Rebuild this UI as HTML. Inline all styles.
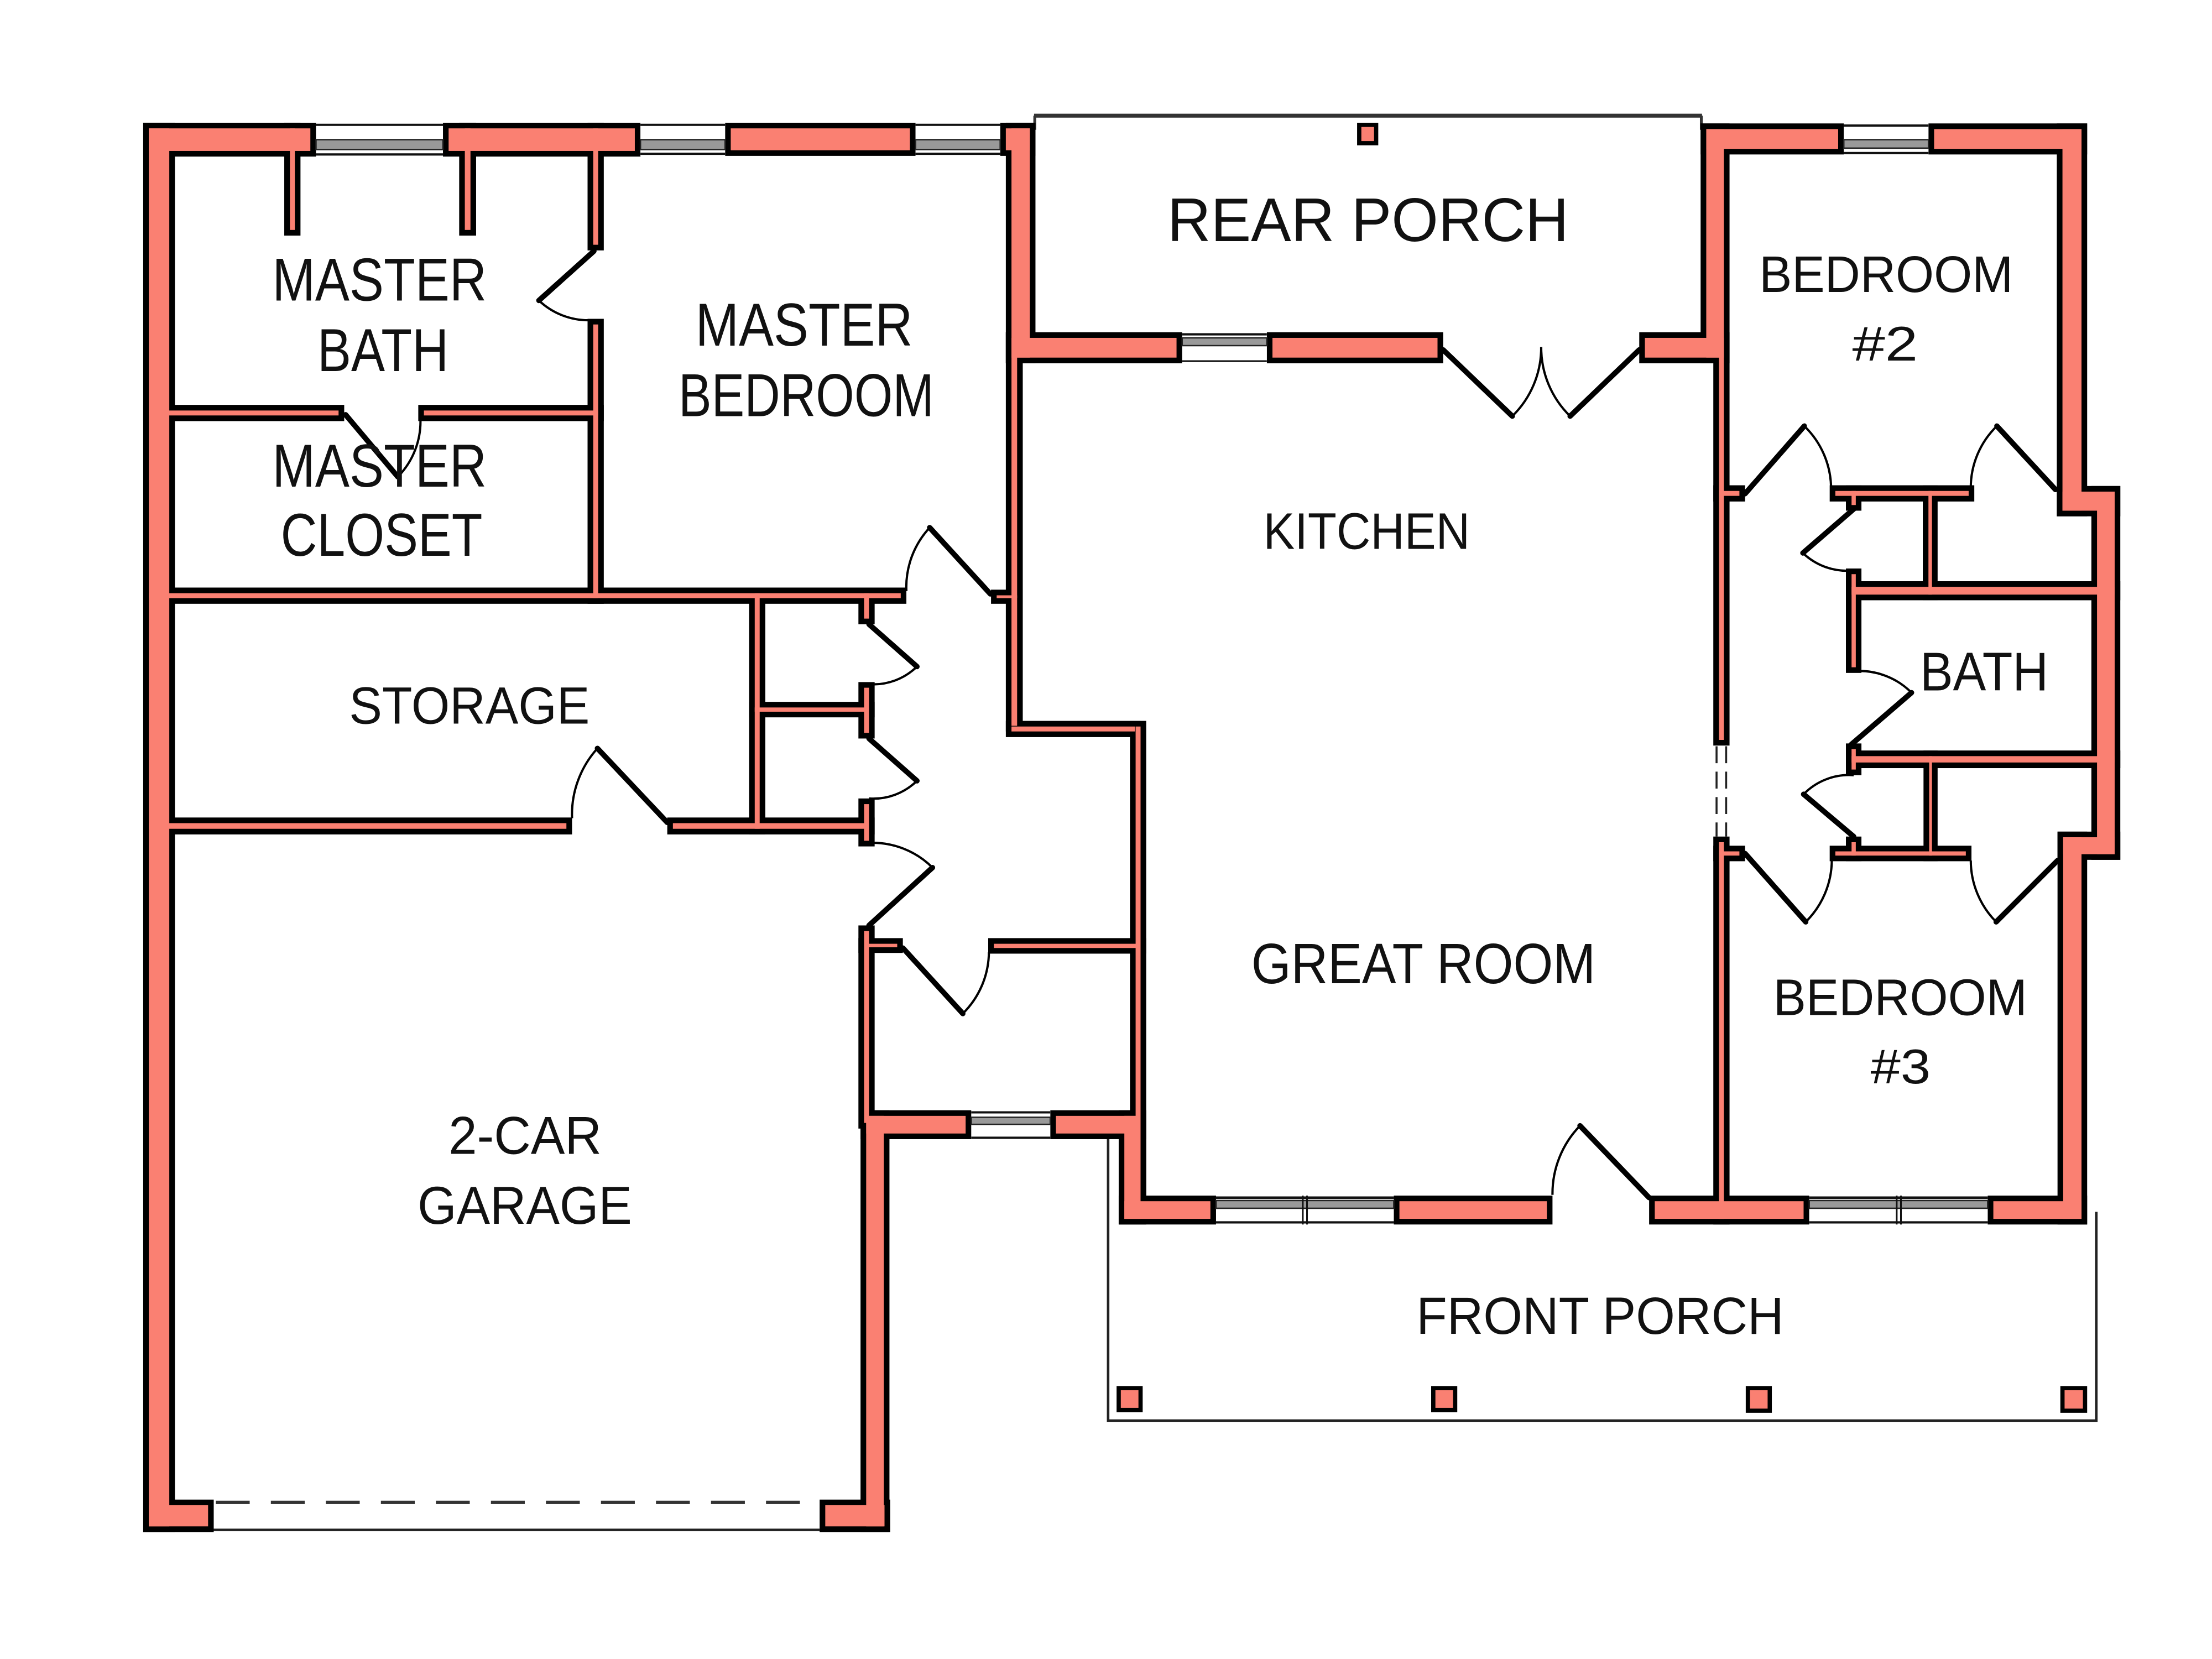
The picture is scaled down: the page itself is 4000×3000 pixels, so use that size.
<!DOCTYPE html>
<html>
<head>
<meta charset="utf-8">
<style>
  html,body{margin:0;padding:0;background:#fff;}
  svg{display:block;}
  text{font-family:"Liberation Sans", sans-serif; fill:#111;}
</style>
</head>
<body>
<svg xmlns="http://www.w3.org/2000/svg" xmlns:xlink="http://www.w3.org/1999/xlink" width="4000" height="3000" viewBox="0 0 1568 1176" preserveAspectRatio="none">
<rect x="0" y="0" width="1568" height="1176" fill="#fff"/>

<!-- porch outlines -->
<g fill="none" stroke="#333">
  <line x1="733" y1="82" x2="1206.5" y2="82" stroke-width="2.8"/>
  <line x1="733.5" y1="82" x2="733.5" y2="92" stroke-width="2"/>
  <line x1="1206" y1="82" x2="1206" y2="92" stroke-width="2"/>
  <polyline points="785.5,807 785.5,1007 1486,1007 1486,859" stroke-width="1.8" stroke="#222"/>
</g>

<!-- wall geometry (inset by 4; outer via stroke) -->
<defs>
<g id="walls">
  <!-- thick exterior -->
  <rect x="105.5" y="91" width="114.5" height="16"/>
  <rect x="318" y="91" width="132" height="16"/>
  <rect x="518" y="91" width="127" height="15.5"/>
  <rect x="713" y="91" width="17" height="15.5"/>
  <rect x="105.5" y="91" width="14.5" height="991"/>
  <rect x="717" y="91" width="13" height="162.5"/>
  <rect x="717" y="239.5" width="117" height="14"/>
  <rect x="902" y="239.5" width="117" height="14"/>
  <rect x="1166" y="239.5" width="56" height="14"/>
  <rect x="1209.5" y="91.5" width="12.5" height="162"/>
  <rect x="1209.5" y="91.5" width="93.5" height="14"/>
  <rect x="1371" y="91.5" width="104.5" height="14"/>
  <rect x="1462" y="91.5" width="13.5" height="270.5"/>
  <rect x="1462" y="348.5" width="37" height="13.5"/>
  <rect x="1486.5" y="348.5" width="12.5" height="257"/>
  <rect x="1462.5" y="593.5" width="36.5" height="12"/>
  <rect x="1462.5" y="593.5" width="13" height="270.5"/>
  <rect x="1413" y="851.5" width="62.5" height="12.5"/>
  <rect x="1173" y="851.5" width="105.5" height="12.5"/>
  <rect x="992" y="851.5" width="104.5" height="12.5"/>
  <rect x="797" y="851.5" width="61" height="12.5"/>
  <rect x="797" y="791" width="11.5" height="73"/>
  <rect x="748.5" y="791" width="60" height="12.5"/>
  <rect x="614" y="791" width="70.5" height="12.5"/>
  <rect x="614" y="791" width="12.5" height="291"/>
  <rect x="105.5" y="1067" width="42" height="15"/>
  <rect x="585" y="1067" width="42" height="15"/>
  <!-- thin interior -->
  <rect x="205.5" y="91" width="3.5" height="72"/>
  <rect x="329.5" y="91" width="4" height="72"/>
  <rect x="420.5" y="91" width="3.5" height="82.5"/>
  <rect x="420.5" y="230" width="3.5" height="194"/>
  <rect x="105.5" y="291" width="134.5" height="3.5"/>
  <rect x="300.5" y="291" width="123.5" height="3.5"/>
  <rect x="105.5" y="420.5" width="533" height="3.5"/>
  <rect x="706.5" y="422" width="14.5" height="2"/>
  <rect x="717" y="239.5" width="4" height="275"/>
  <rect x="717" y="515" width="87.5" height="3.5"/>
  <rect x="805" y="515" width="3.5" height="345"/>
  <rect x="535" y="420.5" width="3.5" height="167"/>
  <rect x="535" y="501.5" width="81" height="3"/>
  <rect x="105.5" y="583.5" width="296" height="4"/>
  <rect x="477" y="583.5" width="139" height="4"/>
  <rect x="612.5" y="420.5" width="3.5" height="18"/>
  <rect x="612.5" y="487.5" width="3.5" height="32"/>
  <rect x="612.5" y="570" width="3.5" height="26"/>
  <rect x="612.5" y="660" width="3.5" height="136"/>
  <rect x="612.5" y="669" width="23.5" height="2.5"/>
  <rect x="704.5" y="669" width="104" height="3"/>
  <rect x="1218.5" y="239.5" width="3.5" height="285"/>
  <rect x="1218.5" y="597" width="3.5" height="267"/>
  <rect x="1218.5" y="348" width="14.5" height="3.5"/>
  <rect x="1301" y="348" width="94.5" height="3.5"/>
  <rect x="1367" y="348" width="2.5" height="73.5"/>
  <rect x="1312.5" y="348" width="3" height="10"/>
  <rect x="1312.5" y="407" width="3" height="66"/>
  <rect x="1312.5" y="416" width="186.5" height="5.5"/>
  <rect x="1312.5" y="531" width="3" height="14.5"/>
  <rect x="1312.5" y="536" width="186.5" height="4.5"/>
  <rect x="1367.5" y="536" width="2" height="70.5"/>
  <rect x="1301" y="603.5" width="92.5" height="3"/>
  <rect x="1312.5" y="597" width="3" height="9.5"/>
  <rect x="1218.5" y="603.5" width="14.5" height="3"/>
</g>
</defs>
<use xlink:href="#walls" href="#walls" fill="#000" stroke="#000" stroke-width="8" stroke-linejoin="miter"/>
<use xlink:href="#walls" href="#walls" fill="#FA8072" stroke="none"/>

<!-- windows -->
<g>
  <!-- top windows -->
  <g>
    <rect x="224" y="87" width="90" height="24" fill="#fff"/>
    <line x1="224" y1="88.5" x2="314" y2="88.5" stroke="#111" stroke-width="1.6"/>
    <rect x="224" y="99" width="90" height="7" fill="#999" stroke="#222" stroke-width="1"/>
    <line x1="224" y1="109.5" x2="314" y2="109.5" stroke="#111" stroke-width="1.6"/>
  </g>
  <g>
    <rect x="454" y="87" width="60" height="23.5" fill="#fff"/>
    <line x1="454" y1="88.5" x2="514" y2="88.5" stroke="#111" stroke-width="1.6"/>
    <rect x="454" y="99" width="60" height="7" fill="#999" stroke="#222" stroke-width="1"/>
    <line x1="454" y1="109" x2="514" y2="109" stroke="#111" stroke-width="1.6"/>
  </g>
  <g>
    <rect x="649" y="87" width="60" height="23.5" fill="#fff"/>
    <line x1="649" y1="88.5" x2="709" y2="88.5" stroke="#111" stroke-width="1.6"/>
    <rect x="649" y="99" width="60" height="7" fill="#999" stroke="#222" stroke-width="1"/>
    <line x1="649" y1="109" x2="709" y2="109" stroke="#111" stroke-width="1.6"/>
  </g>
  <g>
    <rect x="1307" y="87.5" width="60" height="22" fill="#fff"/>
    <line x1="1307" y1="89" x2="1367" y2="89" stroke="#111" stroke-width="1.6"/>
    <rect x="1307" y="99" width="60" height="6" fill="#999" stroke="#222" stroke-width="1"/>
    <line x1="1307" y1="108.5" x2="1367" y2="108.5" stroke="#111" stroke-width="1.6"/>
  </g>
  <!-- rear kitchen window -->
  <g>
    <rect x="838" y="235.5" width="60" height="22" fill="#fff"/>
    <line x1="838" y1="237" x2="898" y2="237" stroke="#111" stroke-width="1.6"/>
    <rect x="838" y="239.5" width="60" height="5.5" fill="#999" stroke="#222" stroke-width="1"/>
    <line x1="838" y1="256" x2="898" y2="256" stroke="#111" stroke-width="1.2"/>
  </g>
  <!-- laundry window -->
  <g>
    <rect x="688.5" y="787" width="56" height="20.5" fill="#fff"/>
    <line x1="688.5" y1="788.5" x2="744.5" y2="788.5" stroke="#111" stroke-width="1.6"/>
    <rect x="688.5" y="792" width="56" height="5" fill="#999" stroke="#222" stroke-width="1"/>
    <line x1="688.5" y1="806.5" x2="744.5" y2="806.5" stroke="#111" stroke-width="1.6"/>
  </g>
  <!-- front windows -->
  <g>
    <rect x="862" y="847.5" width="126" height="20.5" fill="#fff"/>
    <line x1="862" y1="849" x2="988" y2="849" stroke="#111" stroke-width="1.8"/>
    <rect x="862" y="851" width="126" height="5.5" fill="#999" stroke="#222" stroke-width="1"/>
    <line x1="862" y1="866.5" x2="988" y2="866.5" stroke="#111" stroke-width="1.6"/>
    <line x1="923.5" y1="847.5" x2="923.5" y2="868" stroke="#111" stroke-width="1.2"/>
    <line x1="926.5" y1="847.5" x2="926.5" y2="868" stroke="#111" stroke-width="1.2"/>
  </g>
  <g>
    <rect x="1282.5" y="847.5" width="126.5" height="20.5" fill="#fff"/>
    <line x1="1282.5" y1="849" x2="1409" y2="849" stroke="#111" stroke-width="1.8"/>
    <rect x="1282.5" y="851" width="126.5" height="5.5" fill="#999" stroke="#222" stroke-width="1"/>
    <line x1="1282.5" y1="866.5" x2="1409" y2="866.5" stroke="#111" stroke-width="1.6"/>
    <line x1="1344.5" y1="847.5" x2="1344.5" y2="868" stroke="#111" stroke-width="1.2"/>
    <line x1="1347.5" y1="847.5" x2="1347.5" y2="868" stroke="#111" stroke-width="1.2"/>
  </g>
</g>

<!-- garage door -->
<line x1="153" y1="1065" x2="580" y2="1065" stroke="#333" stroke-width="2.4" stroke-dasharray="24 15"/>
<line x1="151.5" y1="1084.5" x2="581" y2="1084.5" stroke="#222" stroke-width="1.8"/>

<!-- dashed opening great room / hall -->
<line x1="1216.8" y1="529" x2="1216.8" y2="593" stroke="#222" stroke-width="1.4" stroke-dasharray="12 6"/>
<line x1="1223.6" y1="529" x2="1223.6" y2="593" stroke="#222" stroke-width="1.4" stroke-dasharray="12 6"/>

<!-- porch posts -->
<g fill="#FA8072" stroke="#000" stroke-width="3">
  <rect x="963.5" y="88.5" width="12" height="13"/>
  <rect x="793" y="984" width="15.5" height="15.5"/>
  <rect x="1016" y="984" width="15.5" height="15.5"/>
  <rect x="1239" y="984" width="15.5" height="16"/>
  <rect x="1462" y="984" width="16" height="16"/>
</g>

<!-- doors: leaves -->
<g stroke="#000" stroke-width="3.8" fill="none" stroke-linecap="round">
  <line x1="421" y1="178" x2="382" y2="213"/>
  <line x1="245" y1="294" x2="282" y2="338"/>
  <line x1="702" y1="421" x2="659" y2="374"/>
  <line x1="616" y1="442.5" x2="650" y2="472.5"/>
  <line x1="616" y1="523.5" x2="650" y2="553.5"/>
  <line x1="616" y1="656" x2="661" y2="615"/>
  <line x1="640" y1="672" x2="682.5" y2="718.5"/>
  <line x1="473" y1="583" x2="423.5" y2="530.5"/>
  <line x1="1023" y1="248" x2="1072" y2="295"/>
  <line x1="1162" y1="248" x2="1113" y2="295"/>
  <line x1="1169" y1="849" x2="1120" y2="798"/>
  <line x1="1237" y1="350" x2="1279" y2="302"/>
  <line x1="1457" y1="347" x2="1415.5" y2="302"/>
  <line x1="1315" y1="360" x2="1278" y2="392"/>
  <line x1="1312" y1="528" x2="1355" y2="491"/>
  <line x1="1314" y1="593" x2="1278.5" y2="563"/>
  <line x1="1237" y1="605" x2="1280" y2="653.5"/>
  <line x1="1458.5" y1="610" x2="1415" y2="653.5"/>
</g>
<!-- doors: swing arcs -->
<g stroke="#000" stroke-width="1.6" fill="none">
  <path d="M382,213 A51,51 0 0 0 418,227"/>
  <path d="M282,338 A56,56 0 0 0 298,296"/>
  <path d="M659,374 A62,62 0 0 0 642.5,419"/>
  <path d="M650,472.5 A44,44 0 0 1 616,485"/>
  <path d="M650,553.5 A44,44 0 0 1 616,566"/>
  <path d="M661,615 A60,60 0 0 0 616,597.5"/>
  <path d="M682.5,718.5 A62,62 0 0 0 701,675"/>
  <path d="M423.5,530.5 A70,70 0 0 0 405.5,580"/>
  <path d="M1072,295 A68,68 0 0 0 1092.5,246"/>
  <path d="M1113,295 A68,68 0 0 1 1092.5,246"/>
  <path d="M1120,798 A69,69 0 0 0 1100.5,847"/>
  <path d="M1279,302 A62,62 0 0 1 1298,346"/>
  <path d="M1415.5,302 A61,61 0 0 0 1397,346"/>
  <path d="M1278,392 A45,45 0 0 0 1312,404.5"/>
  <path d="M1355,491 A52,52 0 0 0 1312,476"/>
  <path d="M1278.5,563 A45,45 0 0 1 1314,549.5"/>
  <path d="M1280,653.5 A62,62 0 0 0 1298.5,610"/>
  <path d="M1415,653.5 A62,62 0 0 1 1397,610"/>
</g>

<!-- labels -->
<g>
  <text x="193" y="213" font-size="43" textLength="152" lengthAdjust="spacingAndGlyphs">MASTER</text>
  <text x="225" y="263" font-size="43" textLength="93" lengthAdjust="spacingAndGlyphs">BATH</text>
  <text x="193" y="345" font-size="43" textLength="152" lengthAdjust="spacingAndGlyphs">MASTER</text>
  <text x="199" y="394" font-size="43" textLength="143" lengthAdjust="spacingAndGlyphs">CLOSET</text>
  <text x="493" y="245" font-size="43" textLength="154" lengthAdjust="spacingAndGlyphs">MASTER</text>
  <text x="481" y="295" font-size="43" textLength="181" lengthAdjust="spacingAndGlyphs">BEDROOM</text>
  <text x="827.5" y="171" font-size="43.5" textLength="284.5" lengthAdjust="spacingAndGlyphs">REAR PORCH</text>
  <text x="895.5" y="389" font-size="36.5" textLength="146.5" lengthAdjust="spacingAndGlyphs">KITCHEN</text>
  <text x="247.5" y="513" font-size="37" textLength="170.5" lengthAdjust="spacingAndGlyphs">STORAGE</text>
  <text x="1247" y="207" font-size="36.5" textLength="180" lengthAdjust="spacingAndGlyphs">BEDROOM</text>
  <text x="1313" y="255.5" font-size="34.5" textLength="46.5" lengthAdjust="spacingAndGlyphs">#2</text>
  <text x="1361" y="489.5" font-size="38.5" textLength="91" lengthAdjust="spacingAndGlyphs">BATH</text>
  <text x="1257" y="719.5" font-size="36.5" textLength="180" lengthAdjust="spacingAndGlyphs">BEDROOM</text>
  <text x="1326" y="768" font-size="34.5" textLength="42.5" lengthAdjust="spacingAndGlyphs">#3</text>
  <text x="887" y="697" font-size="40.5" textLength="244" lengthAdjust="spacingAndGlyphs">GREAT ROOM</text>
  <text x="318" y="818" font-size="38" textLength="108.5" lengthAdjust="spacingAndGlyphs">2-CAR</text>
  <text x="296" y="867.5" font-size="38" textLength="152" lengthAdjust="spacingAndGlyphs">GARAGE</text>
  <text x="1004" y="945.5" font-size="37" textLength="260.5" lengthAdjust="spacingAndGlyphs">FRONT PORCH</text>
</g>
</svg>
</body>
</html>
